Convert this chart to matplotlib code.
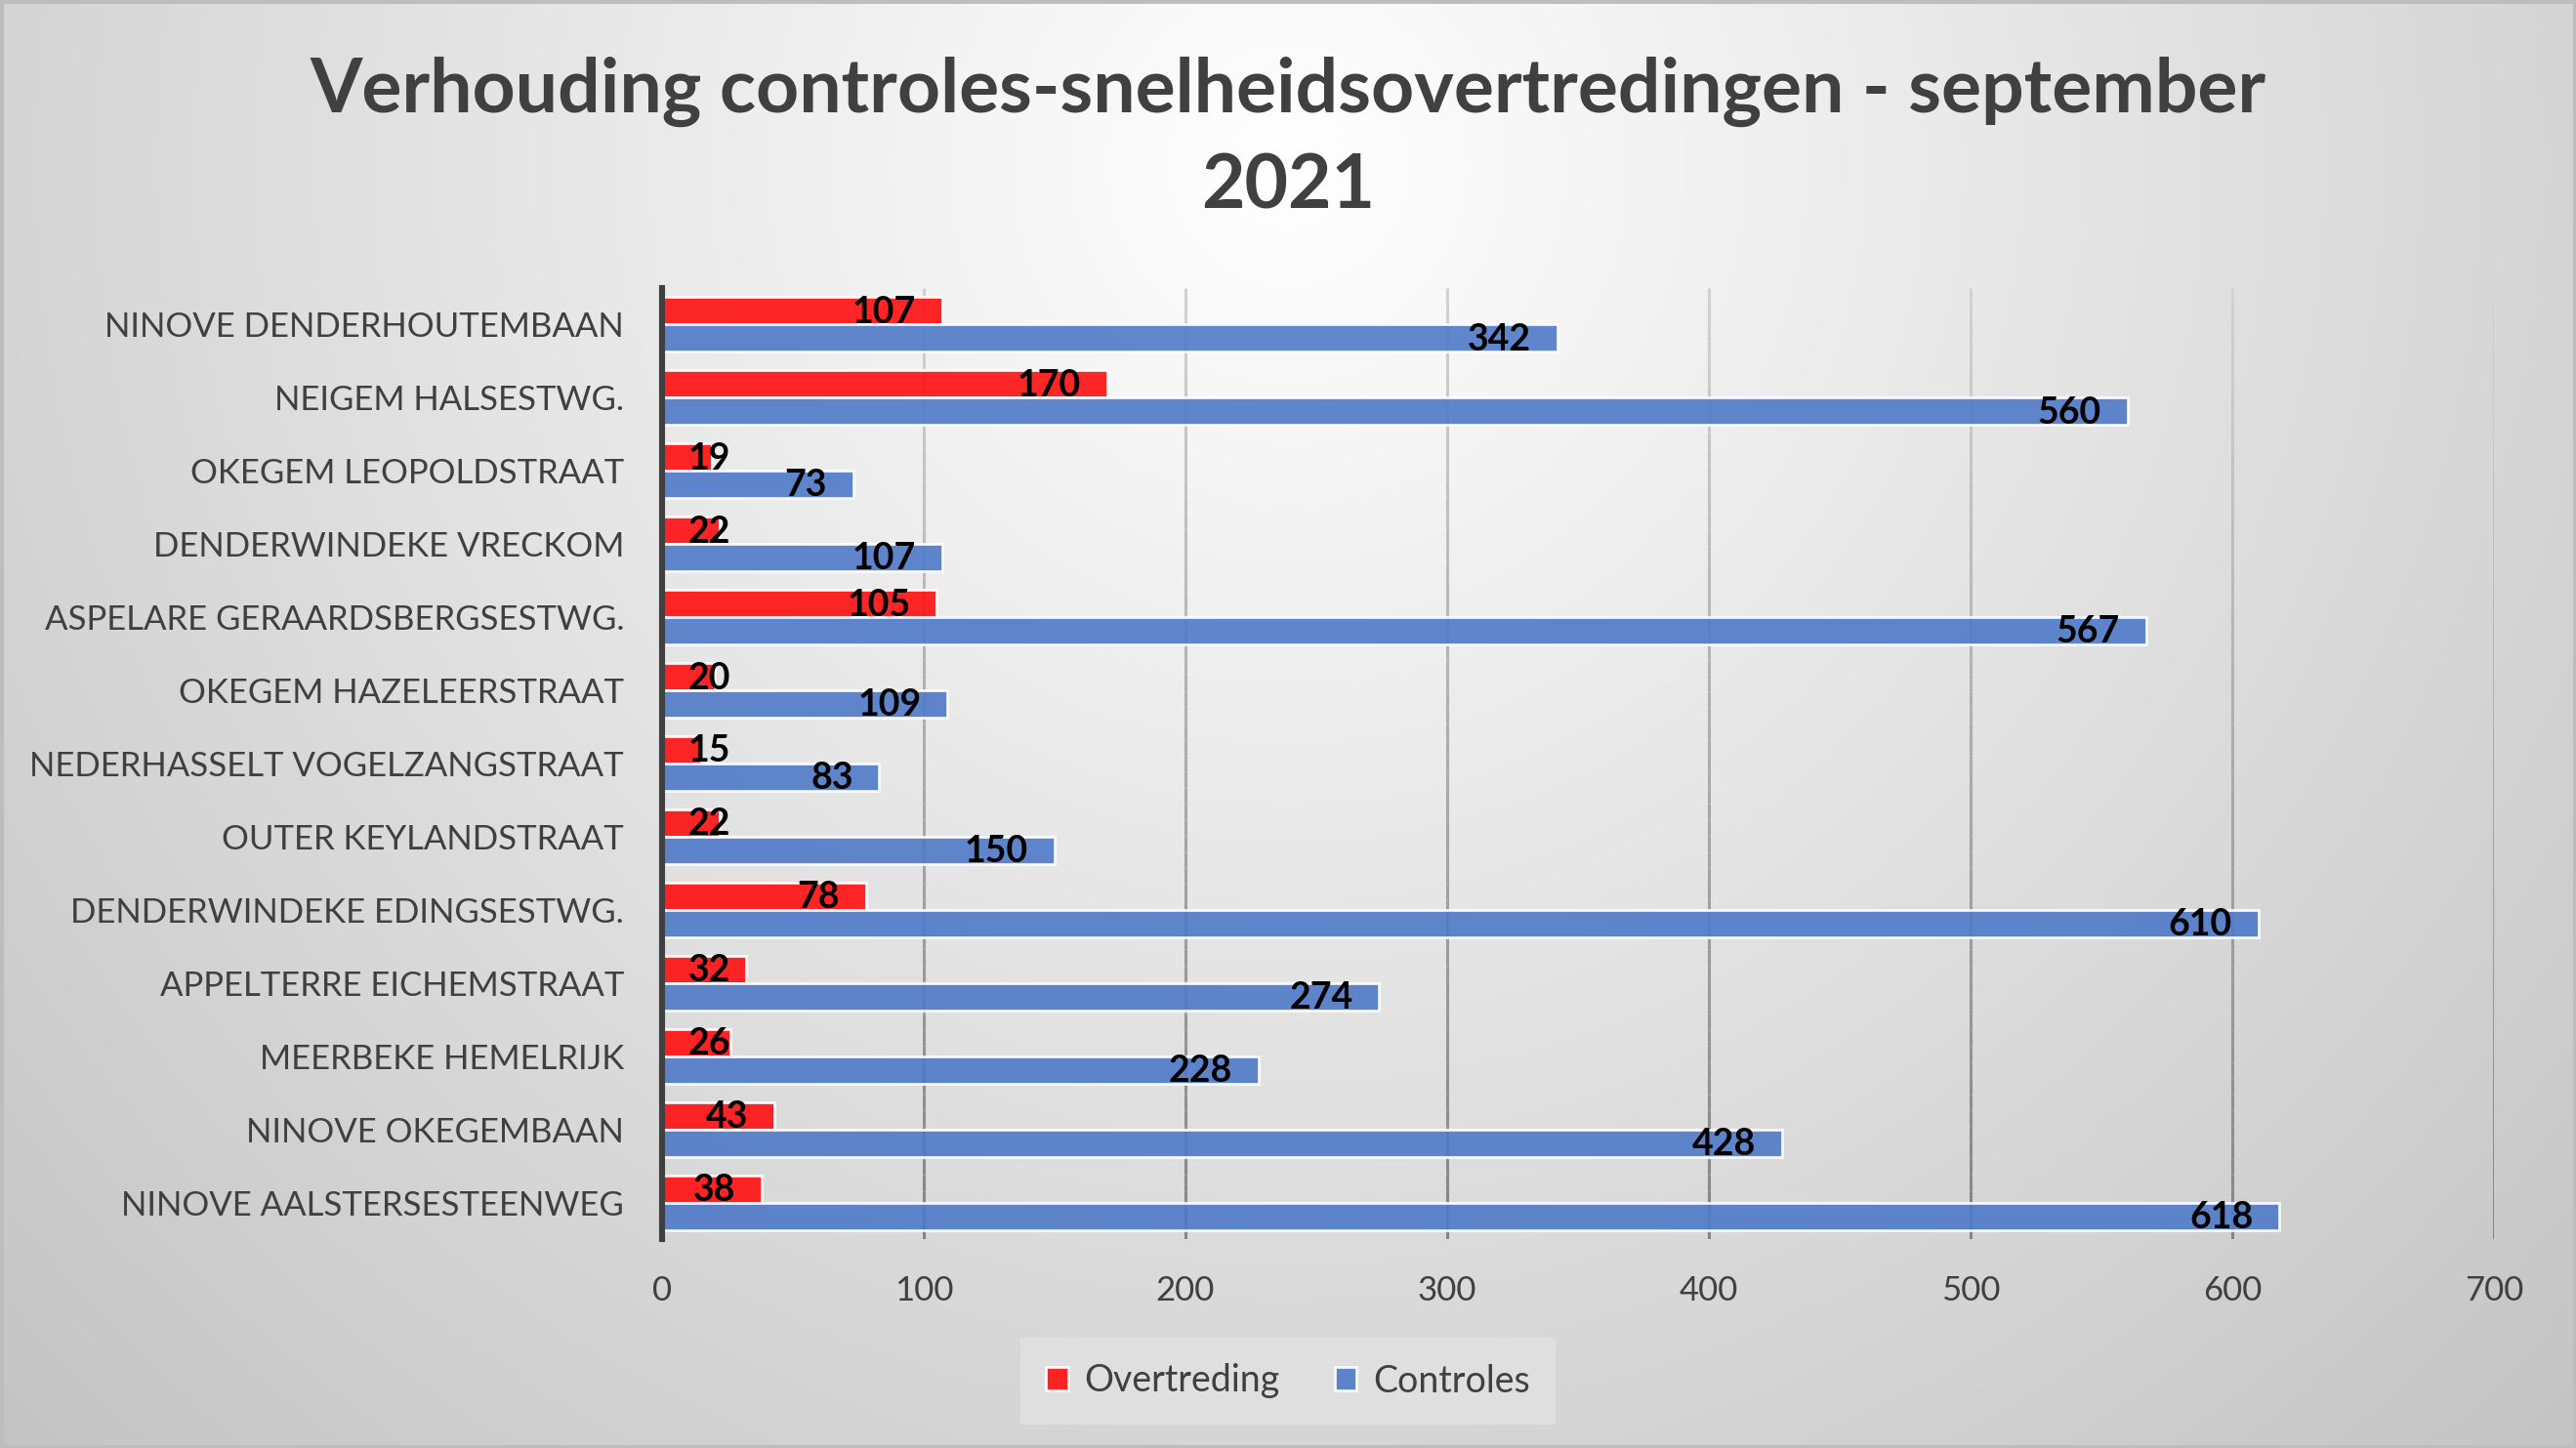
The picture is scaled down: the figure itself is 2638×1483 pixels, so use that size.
import numpy as np
import matplotlib
matplotlib.use("Agg")
import matplotlib.pyplot as plt
from matplotlib.collections import LineCollection
from matplotlib.patches import Rectangle, Patch

# ---------------- data ----------------
categories = [
    "NINOVE DENDERHOUTEMBAAN",
    "NEIGEM HALSESTWG.",
    "OKEGEM LEOPOLDSTRAAT",
    "DENDERWINDEKE VRECKOM",
    "ASPELARE GERAARDSBERGSESTWG.",
    "OKEGEM HAZELEERSTRAAT",
    "NEDERHASSELT VOGELZANGSTRAAT",
    "OUTER KEYLANDSTRAAT",
    "DENDERWINDEKE EDINGSESTWG.",
    "APPELTERRE EICHEMSTRAAT",
    "MEERBEKE HEMELRIJK",
    "NINOVE OKEGEMBAAN",
    "NINOVE AALSTERSESTEENWEG",
]
overtreding = [107, 170, 19, 22, 105, 20, 15, 22, 78, 32, 26, 43, 38]
controles = [342, 560, 73, 107, 567, 109, 83, 150, 610, 274, 228, 428, 618]
series_names = ["Overtreding", "Controles"]
x_ticks = [0, 100, 200, 300, 400, 500, 600, 700]
title = "Verhouding controles-snelheidsovertredingen - september\n2021"

# ---------------- style ----------------
FONT = "Lato"
plt.rcParams["font.family"] = [FONT, "DejaVu Sans"]
TXT = "#404040"
RED = "#ff0f0f"
BLUE = "#4f7ac8"

W, H, DPI = 2638, 1483, 200
fig = plt.figure(figsize=(W / DPI, H / DPI), dpi=DPI)

# background radial gradient
bg = fig.add_axes([0, 0, 1, 1], zorder=-10)
yy, xx = np.mgrid[0:H, 0:W]
d = np.hypot(xx - 1319, yy - 170)
v = np.clip(255 - 0.032 * d, 0, 255) / 255.0
bg.imshow(np.dstack([v, v, v]), aspect="auto", extent=[0, 1, 0, 1], origin="upper")
bg.add_patch(Rectangle((0, 0), 1, 1, transform=bg.transAxes, fill=False,
                       edgecolor="#bdbdbd", linewidth=2.5))
bg.set_axis_off()

# main axes
ax = fig.add_axes([0.2570, 0.1440, 0.9682 - 0.2570, 0.8014 - 0.1440])
ax.patch.set_alpha(0)
n = len(categories)
y = np.arange(n)
h = 0.373
ax.barh(y - h / 2, overtreding, height=h, color=RED, alpha=0.9,
        edgecolor=(1, 1, 1, 0.5), linewidth=1.0, zorder=3, label=series_names[0])
ax.barh(y + h / 2, controles, height=h, color=BLUE, alpha=0.9,
        edgecolor=(1, 1, 1, 0.5), linewidth=1.0, zorder=3, label=series_names[1])

ax.set_xlim(0, 700)
ax.set_ylim(n - 0.5, -0.5)
ax.set_xticks(x_ticks)
ax.set_xticklabels([str(t) for t in x_ticks])
ax.set_yticks(y)
ax.set_yticklabels(categories)
ax.tick_params(axis="both", length=0, labelcolor=TXT, labelsize=12.5)
ax.tick_params(axis="y", pad=14)
ax.tick_params(axis="x", pad=13)
for s in ["top", "right", "bottom"]:
    ax.spines[s].set_visible(False)
ax.spines["left"].set_color("#404040")
ax.spines["left"].set_linewidth(2.2)
ax.spines["left"].set_zorder(5)

# gradient gridlines
ys = np.linspace(-0.5, n - 0.5, 60)
for xt in x_ticks[1:]:
    pts = np.array([[xt, yv] for yv in ys])
    segs = np.stack([pts[:-1], pts[1:]], axis=1)
    tvals = np.linspace(0, 1, len(segs))
    cols = [(c, c, c) for c in (0.82 - 0.30 * tvals)]
    lc = LineCollection(segs, colors=cols, linewidths=1.1, zorder=1)
    ax.add_collection(lc)

# data labels
fig.canvas.draw()
renderer = fig.canvas.get_renderer()
px_per_unit = ax.transData.transform((1, 0))[0] - ax.transData.transform((0, 0))[0]
pad = 10
for vals, off in ((overtreding, -h / 2), (controles, h / 2)):
    for i, val in enumerate(vals):
        t = ax.text(0, i + off + 0.02, str(val), ha="right", va="center",
                    fontsize=13.5, fontweight="bold", color="black", zorder=6)
        wdat = t.get_window_extent(renderer).width / px_per_unit
        t.set_x(max(val - pad, pad + wdat))

# title (va='baseline' anchors the last line)
fig.text(0.5, 1 - 213 / H, title, ha="center", va="baseline", fontsize=27.7,
         fontweight="bold", color=TXT, linespacing=1.45)

# legend
handles = [Patch(facecolor=RED, alpha=0.9, edgecolor=(1, 1, 1, 0.5)),
           Patch(facecolor=BLUE, alpha=0.9, edgecolor=(1, 1, 1, 0.5))]
leg = fig.legend(handles, series_names, loc="center", bbox_to_anchor=(0.5, 1 - 1414.5 / H),
                 ncol=2, frameon=True, fontsize=13.5, handlelength=0.6, handleheight=0.6,
                 handletextpad=0.45, columnspacing=1.5, borderpad=0.7, fancybox=False)
leg.get_frame().set_facecolor("#e2e2e2")
leg.get_frame().set_edgecolor("none")
for tx in leg.get_texts():
    tx.set_color(TXT)

fig.savefig("out.png", dpi=DPI)
